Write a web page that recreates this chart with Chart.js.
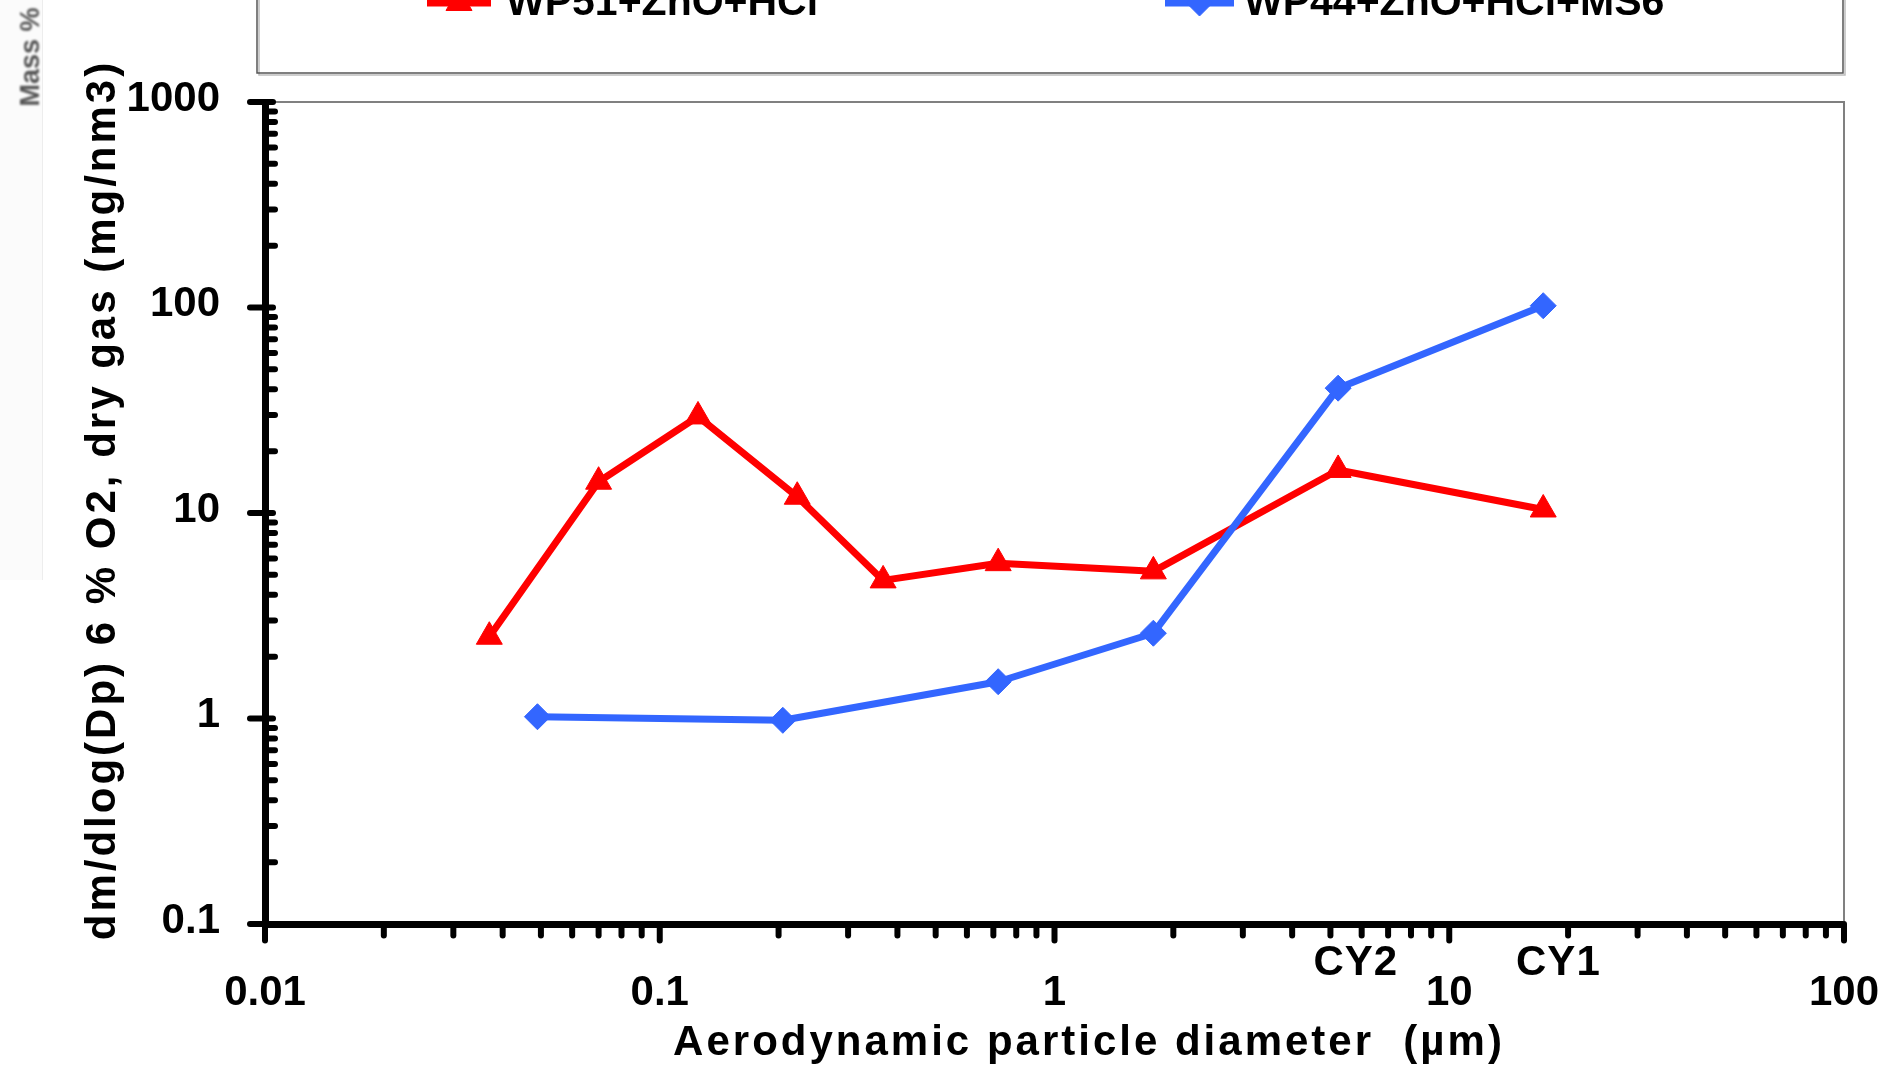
<!DOCTYPE html>
<html><head><meta charset="utf-8">
<script src="https://cdn.jsdelivr.net/npm/chart.js@4/dist/chart.umd.min.js"></script>
<style>html,body{margin:0;padding:0;background:#fff;overflow:hidden}canvas{display:block}</style>
</head><body>
<canvas id="c" width="1899" height="1072"></canvas>
<script>
// ---- data ----
const seriesNames = ['WP51+ZnO+HCl', 'WP44+ZnO+HCl+MS6'];
const redX = [0.037, 0.070, 0.125, 0.223, 0.368, 0.72, 1.78, 5.23, 17.3];
const redY = [2.5, 14.2, 29.5, 12.0, 4.7, 5.7, 5.2, 16.2, 10.4];
const blueX = [0.049, 0.205, 0.72, 1.78, 5.23, 17.3];
const blueY = [1.02, 0.98, 1.51, 2.6, 40.5, 102];
const xTickValues = [0.01, 0.1, 1, 10, 100];
const xTickLabels = ['0.01', '0.1', '1', '10', '100'];
const yTickValues = [0.1, 1, 10, 100, 1000];
const yTickLabels = ['0.1', '1', '10', '100', '1000'];
const minorMultipliers = [2, 3, 4, 5, 6, 7, 8, 9];
const stageLabels = ['CY2', 'CY1'];
const stagePositions = [5.8, 18.9];
const xTitle = 'Aerodynamic particle diameter  (µm)';
const yTitle = 'dm/dlog(Dp) 6 % O2, dry gas (mg/nm3)';
const ghostText = 'Mass %';

const FONT = '"Liberation Sans", Arial, Helvetica, sans-serif';
const RED = '#FF0000', BLUE = '#3366FF';

function line(ctx, x1, y1, x2, y2) { ctx.beginPath(); ctx.moveTo(x1, y1); ctx.lineTo(x2, y2); ctx.stroke(); }

const decor = {
  id: 'decor',
  beforeDraw(chart) {
    const ctx = chart.ctx;
    ctx.save();
    ctx.fillStyle = '#fff';
    ctx.fillRect(0, 0, chart.width, chart.height);
    ctx.fillStyle = '#fbfbfb';
    ctx.fillRect(0, 0, 42, 580);
    ctx.strokeStyle = '#ededed'; ctx.lineWidth = 1;
    line(ctx, 42.5, 0, 42.5, 580);
    ctx.restore();

    ctx.save();
    ctx.translate(39, 57); ctx.rotate(-Math.PI / 2);
    ctx.font = `bold 27px ${FONT}`; ctx.fillStyle = '#555';
    ctx.textAlign = 'center'; ctx.textBaseline = 'alphabetic';
    ctx.filter = 'blur(0.8px)';
    ctx.fillText(ghostText, 0, 0);
    ctx.restore();

    // legend box (top is cut off by the page edge)
    ctx.save();
    ctx.strokeStyle = '#bdbdbd'; ctx.lineWidth = 1.5;
    ctx.strokeRect(259, -60, 1586, 135);
    ctx.strokeStyle = '#555'; ctx.lineWidth = 1.5;
    ctx.strokeRect(257, -60, 1586, 133);
    const items = [
      { ds: chart.data.datasets[1], x1: 427, x2: 491, tx: 506 },
      { ds: chart.data.datasets[0], x1: 1165, x2: 1234, tx: 1244 }
    ];
    const rowY = 3;
    items.forEach(it => {
      ctx.strokeStyle = it.ds.borderColor; ctx.lineWidth = it.ds.borderWidth; ctx.lineCap = 'butt';
      line(ctx, it.x1, rowY, it.x2, rowY);
      ctx.fillStyle = it.ds.pointBackgroundColor; ctx.strokeStyle = it.ds.pointBorderColor; ctx.lineWidth = it.ds.pointBorderWidth;
      Chart.helpers.drawPoint(ctx, { pointStyle: it.ds.pointStyle, radius: it.ds.pointRadius, borderWidth: it.ds.pointBorderWidth, rotation: 0 }, (it.x1 + it.x2) / 2, rowY);
      ctx.fillStyle = '#000'; ctx.font = `bold 41px ${FONT}`;
      ctx.textAlign = 'left'; ctx.textBaseline = 'alphabetic';
      ctx.fillText(it.ds.label, it.tx, 15);
    });
    ctx.restore();
  },
  beforeDatasetsDraw(chart) {
    const ctx = chart.ctx, ca = chart.chartArea;
    ctx.save();
    ctx.strokeStyle = '#808080'; ctx.lineWidth = 2;
    line(ctx, ca.left, ca.top, ca.right + 1, ca.top);
    line(ctx, ca.right, ca.top, ca.right, ca.bottom);
    ctx.restore();
  },
  afterDraw(chart) {
    const ctx = chart.ctx, ca = chart.chartArea;
    const xs = chart.scales.x, ys = chart.scales.y;
    ctx.save();
    ctx.strokeStyle = '#000'; ctx.lineWidth = 6; ctx.lineCap = 'round';
    const ax = ca.left, ay = ca.bottom;
    for (let i = 0; i < yTickValues.length - 1; i++) {
      minorMultipliers.forEach(m => {
        const py = ys.getPixelForValue(yTickValues[i] * m);
        line(ctx, ax, py, ax + 10, py);
      });
    }
    yTickValues.forEach(v => { const py = ys.getPixelForValue(v); line(ctx, ax - 15, py, ax + 8, py); });
    for (let i = 0; i < xTickValues.length - 1; i++) {
      minorMultipliers.forEach(m => {
        const px = xs.getPixelForValue(xTickValues[i] * m);
        line(ctx, px, ay, px, ay + 11.5);
      });
    }
    xTickValues.forEach(v => { const px = xs.getPixelForValue(v); line(ctx, px, ay, px, ay + 16.5); });

    ctx.fillStyle = '#000';
    ctx.font = `bold 42px ${FONT}`;
    ctx.textAlign = 'center'; ctx.textBaseline = 'alphabetic';
    ctx.letterSpacing = '1px';
    stageLabels.forEach((t, i) => ctx.fillText(t, xs.getPixelForValue(stagePositions[i]), 975));

    ctx.letterSpacing = '3px';
    ctx.fillText(xTitle, 1089, 1055);
    ctx.translate(115, 500); ctx.rotate(-Math.PI / 2);
    ctx.fillText(yTitle, 0, 0);
    ctx.restore();
  }
};

const tickFont = { family: FONT, size: 42, weight: 'bold' };

new Chart(document.getElementById('c'), {
  type: 'scatter',
  data: {
    datasets: [
      {
        label: seriesNames[1],
        data: blueX.map((x, i) => ({ x, y: blueY[i] })),
        showLine: true, borderColor: BLUE, backgroundColor: BLUE, borderWidth: 7,
        borderJoinStyle: 'round',
        pointStyle: 'rectRot', pointRadius: 13, pointBorderWidth: 1,
        pointBackgroundColor: BLUE, pointBorderColor: BLUE
      },
      {
        label: seriesNames[0],
        data: redX.map((x, i) => ({ x, y: redY[i] })),
        showLine: true, borderColor: RED, backgroundColor: RED, borderWidth: 7,
        borderJoinStyle: 'round',
        pointStyle: 'triangle', pointRadius: 15, pointBorderWidth: 1,
        pointBackgroundColor: RED, pointBorderColor: RED
      }
    ]
  },
  options: {
    responsive: false, animation: false, devicePixelRatio: 1,
    layout: { padding: { top: 102, right: 55, left: 0, bottom: 0 } },
    plugins: { legend: { display: false }, tooltip: { enabled: false }, title: { display: false } },
    scales: {
      x: {
        type: 'logarithmic', position: 'bottom', min: 0.01, max: 100,
        grid: { display: false, drawTicks: false },
        border: { display: true, color: '#000', width: 7 },
        ticks: { autoSkip: false, maxRotation: 0, minRotation: 0, padding: 44, font: tickFont, color: '#000',
          callback: (v, i) => xTickLabels[i] },
        afterBuildTicks: s => { s.ticks = xTickValues.map(v => ({ value: v })); },
        afterFit: s => { s.height = 148; s.paddingLeft = 0; s.paddingRight = 0; }
      },
      y: {
        type: 'logarithmic', position: 'left', min: 0.1, max: 1000,
        grid: { display: false, drawTicks: false },
        border: { display: true, color: '#000', width: 7 },
        ticks: { autoSkip: false, padding: 45, labelOffset: -3, font: tickFont, color: '#000',
          callback: (v, i) => yTickLabels[i] },
        afterBuildTicks: s => { s.ticks = yTickValues.map(v => ({ value: v })); },
        afterFit: s => { s.width = 265; }
      }
    }
  },
  plugins: [decor]
});
</script>
</body></html>
